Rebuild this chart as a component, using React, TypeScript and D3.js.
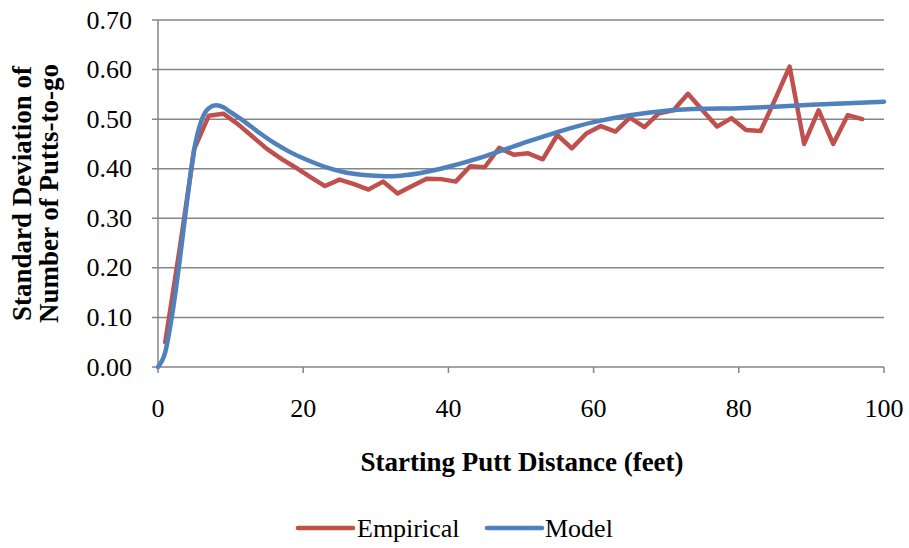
import React from "react";
import * as d3 from "d3";

const empiricalX = [1,3,5,7,9,11,13,15,17,19,21,23,25,27,29,31,33,35,37,39,41,43,45,47,49,51,53,55,57,59,61,63,65,67,69,71,73,75,77,79,81,83,85,87,89,91,93,95,97];
const empiricalY = [0.05,0.24,0.44,0.507,0.511,0.49,0.465,0.44,0.42,0.402,0.383,0.365,0.378,0.369,0.358,0.374,0.35,0.365,0.38,0.379,0.374,0.405,0.403,0.442,0.428,0.431,0.419,0.468,0.441,0.471,0.486,0.475,0.503,0.484,0.512,0.518,0.551,0.518,0.485,0.502,0.478,0.476,0.54,0.606,0.45,0.518,0.45,0.508,0.5];

const modelX = [0,1,2,3,4,5,6,7,8,9,10,12,14,16,18,20,22,24,26,28,30,32,34,36,38,40,45,50,55,60,65,70,75,80,85,90,95,100];
const modelY = [0,0.03,0.11,0.216,0.335,0.44,0.498,0.522,0.528,0.524,0.514,0.494,0.472,0.452,0.435,0.421,0.409,0.399,0.392,0.388,0.386,0.385,0.387,0.391,0.397,0.404,0.425,0.45,0.474,0.494,0.508,0.517,0.521,0.522,0.525,0.529,0.532,0.535];

const yTicks = [0,0.1,0.2,0.3,0.4,0.5,0.6,0.7];
const xTicks = [0,20,40,60,80,100];

const seriesNames = ["Empirical", "Model"];
const seriesColors = ["#C0504D", "#4F81BD"];

export default function App() {
  const W = 909, H = 548;
  const left = 158, right = 884, top = 20, bottom = 367;
  const x = d3.scaleLinear().domain([0, 100]).range([left, right]);
  const y = d3.scaleLinear().domain([0, 0.7]).range([bottom, top]);
  const font = "'Liberation Serif', 'Times New Roman', serif";

  const emp = empiricalX.map((v, i) => [v, empiricalY[i]] as [number, number]);
  const mod = modelX.map((v, i) => [v, modelY[i]] as [number, number]);
  const lineLinear = d3.line<[number, number]>().x(d => x(d[0])).y(d => y(d[1]));
  const lineSmooth = d3.line<[number, number]>().x(d => x(d[0])).y(d => y(d[1])).curve(d3.curveMonotoneX);

  return (
    <svg width={W} height={H} style={{ position: "absolute", left: 0, top: 0, background: "#fff" }} fontFamily={font}>
      {yTicks.map(t => (
        <g key={t}>
          <line x1={left - 6} x2={right} y1={y(t)} y2={y(t)} stroke="#868686" strokeWidth={1.5} />
          <text x={132} y={y(t)} dy="0.33em" textAnchor="end" fontSize={26} fill="#000">{t.toFixed(2)}</text>
        </g>
      ))}
      <line x1={left} x2={left} y1={top} y2={bottom} stroke="#868686" strokeWidth={1.5} />
      {xTicks.map(t => (
        <g key={t}>
          <line x1={x(t)} x2={x(t)} y1={bottom} y2={bottom + 6} stroke="#868686" strokeWidth={1.5} />
          <text x={x(t)} y={417} textAnchor="middle" fontSize={26} fill="#000">{t}</text>
        </g>
      ))}
      <path d={lineLinear(emp) || ""} fill="none" stroke={seriesColors[0]} strokeWidth={4.5} strokeLinejoin="round" strokeLinecap="round" />
      <path d={lineSmooth(mod) || ""} fill="none" stroke={seriesColors[1]} strokeWidth={4.5} strokeLinejoin="round" strokeLinecap="round" />
      <text x={522} y={471} textAnchor="middle" fontSize={27} fontWeight="bold" fill="#000">Starting Putt Distance (feet)</text>
      <g transform={`translate(0, ${(top + bottom) / 2}) rotate(-90)`}>
        <text x={0} y={31} textAnchor="middle" fontSize={27} fontWeight="bold" fill="#000">Standard Deviation of</text>
        <text x={0} y={58} textAnchor="middle" fontSize={27} fontWeight="bold" fill="#000">Number of Putts-to-go</text>
      </g>
      <g>
        <line x1={298} x2={353} y1={528} y2={528} stroke={seriesColors[0]} strokeWidth={4.5} strokeLinecap="round" />
        <text x={357} y={528} dy="0.33em" fontSize={26} fill="#000">{seriesNames[0]}</text>
        <line x1={487} x2={542} y1={528} y2={528} stroke={seriesColors[1]} strokeWidth={4.5} strokeLinecap="round" />
        <text x={545} y={528} dy="0.33em" fontSize={26} fill="#000">{seriesNames[1]}</text>
      </g>
    </svg>
  );
}
